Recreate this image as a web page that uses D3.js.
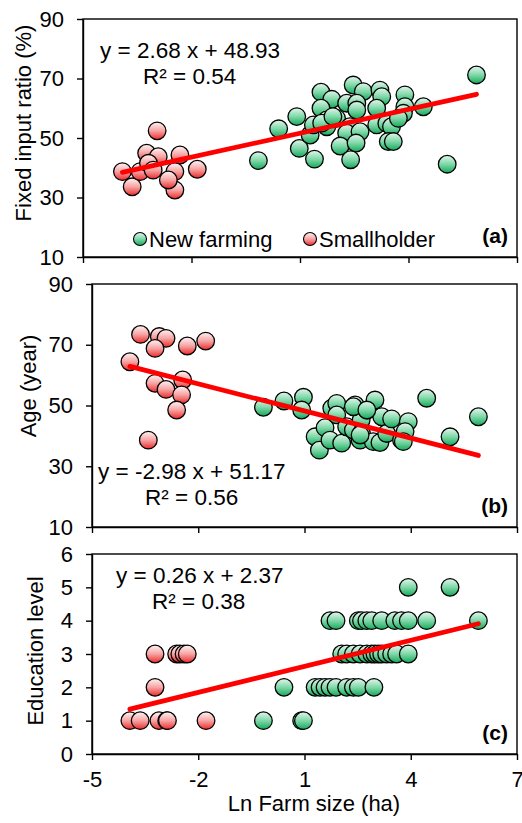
<!DOCTYPE html>
<html><head><meta charset="utf-8">
<script src="https://cdn.jsdelivr.net/npm/d3@7"></script>
<style>
html,body{margin:0;padding:0;background:#fff;}
svg{display:block;font-family:"Liberation Sans",Arial,sans-serif;}
</style></head>
<body><svg id="chart" width="522" height="823"></svg>
<script>
// ---------------- data ----------------
const xTicks = [-5, -2, 1, 4, 7];
const yTicksA = [10, 30, 50, 70, 90];
const yTicksB = [10, 30, 50, 70, 90];
const yTicksC = [0, 1, 2, 3, 4, 5, 6];
const seriesNames = ["New farming", "Smallholder"];
const panelLabels = ["(a)", "(b)", "(c)"];
const yTitles = ["Fixed input ratio (%)", "Age (year)", "Education level"];
const xTitle = "Ln Farm size (ha)";
const slopes = [2.68, -2.98, 0.26];
const intercepts = [48.93, 51.17, 2.37];
const r2s = ["0.54", "0.56", "0.38"];

const newFarmingA = [[5.88,71.2],[5.07,41.2],[-0.15,42.4],[0.41,53.1],[0.91,57.2],[0.98,46.5],[1.40,42.9],[1.58,65.4],[1.88,63.0],[1.58,60.0],[1.74,56.1],[1.28,51.0],[1.37,54.4],[1.74,53.8],[1.60,55.0],[2.01,56.6],[1.91,57.2],[2.47,67.8],[2.75,65.6],[3.21,66.1],[3.26,63.9],[2.29,61.7],[2.57,61.7],[3.12,60.0],[2.57,59.4],[2.38,53.8],[2.29,51.6],[2.66,52.1],[2.11,47.3],[2.55,48.3],[2.40,42.7],[3.12,54.4],[3.40,54.9],[3.53,53.8],[3.44,48.8],[3.58,48.8],[3.90,64.5],[3.90,60.5],[3.86,58.3],[3.72,56.6],[4.41,60.5]];
const smallholderA = [[-2.95,52.4],[-3.91,38.7],[-3.64,33.6],[-3.24,44.9],[-2.92,43.7],[-2.32,44.3],[-1.84,39.5],[-2.46,38.7],[-2.46,32.5],[-2.64,35.9],[-3.42,38.7],[-3.19,41.5],[-3.06,39.2]];

const newFarmingB = [[-0.16,49.4],[0.42,51.5],[0.97,52.7],[0.92,48.5],[1.30,39.7],[1.42,35.3],[1.58,42.7],[1.72,38.6],[1.77,49.1],[1.91,50.7],[1.91,46.9],[2.05,37.6],[2.19,43.0],[2.38,41.9],[2.43,50.2],[2.60,45.2],[2.57,38.6],[2.61,40.8],[2.77,48.5],[2.99,51.8],[2.94,38.1],[3.13,37.8],[3.18,46.3],[3.32,40.8],[3.46,45.6],[3.74,38.6],[3.93,44.7],[3.84,41.4],[4.45,52.4],[5.11,39.7],[5.91,46.3],[2.38,49.6],[2.76,48.5],[2.57,40.3],[3.79,38.1]];
const smallholderB = [[-3.93,64.4],[-3.63,73.4],[-3.10,72.7],[-2.91,72.1],[-3.22,68.8],[-2.31,69.6],[-1.79,71.2],[-3.22,57.3],[-2.91,55.3],[-2.44,58.4],[-2.47,53.5],[-2.61,48.5],[-3.41,38.6]];

const newFarmingC = [[-0.16,1],[0.92,1],[0.97,1],
 [0.42,2],[1.30,2],[1.44,2],[1.58,2],[1.72,2],[1.89,2],[2.19,2],[2.38,2],[2.52,2],[2.96,2],
 [2.05,3],[2.19,3],[2.38,3],[2.57,3],[2.76,3],[2.90,3],[2.99,3],[3.09,3],[3.18,3],[3.32,3],[3.46,3],[3.60,3],[3.93,3],
 [1.72,4],[1.89,4],[2.52,4],[2.61,4],[2.76,4],[2.90,4],[3.18,4],[3.55,4],[3.74,4],[3.93,4],[4.45,4],[5.91,4],
 [3.93,5],[5.11,5]];
const smallholderC = [[-3.93,1],[-3.64,1],[-3.11,1],[-2.89,1],[-2.87,1],[-1.78,1],[-3.22,2],[-3.22,3],[-2.61,3],[-2.52,3],[-2.40,3],[-2.31,3]];

// ---------------- drawing ----------------
const svg = d3.select("#chart");
const defs = svg.append("defs");
function grad(id, top, mid, bottom){
  const g = defs.append("linearGradient").attr("id", id).attr("x1",0).attr("y1",0).attr("x2",0).attr("y2",1);
  g.append("stop").attr("offset","0%").attr("stop-color",top);
  g.append("stop").attr("offset","50%").attr("stop-color",mid);
  g.append("stop").attr("offset","100%").attr("stop-color",bottom);
}
grad("gGreen", "#e3f7ec", "#7fd8a8", "#14a85a");
grad("gRed", "#fff4f4", "#f7a3a3", "#ec2a2a");

const FONT = 22;
const R = 8.8;

function panel(cfg){
  const x = d3.scaleLinear().domain([-5, 7]).range([cfg.left, cfg.right]);
  const y = d3.scaleLinear().domain(cfg.yDomain).range([cfg.bottom, cfg.top]);
  const g = svg.append("g");

  // frame
  g.append("rect").attr("x", cfg.left).attr("y", cfg.top)
    .attr("width", cfg.right - cfg.left).attr("height", cfg.bottom - cfg.top)
    .attr("fill", "none").attr("stroke", "#000").attr("stroke-width", 1.4);

  // axes
  const xa = g.append("g").attr("transform", `translate(0,${cfg.bottom})`)
    .call(d3.axisBottom(x).tickValues(xTicks).tickSize(6).tickSizeOuter(0).tickFormat(cfg.showX ? d3.format("d") : ""));
  const ya = g.append("g").attr("transform", `translate(${cfg.left},0)`)
    .call(d3.axisLeft(y).tickValues(cfg.yTicks).tickSize(6).tickSizeOuter(0).tickPadding(13).tickFormat(d3.format("d")));
  [xa, ya].forEach(a => {
    a.select(".domain").attr("stroke-width", 1.4);
    a.selectAll(".tick line").attr("stroke-width", 1.4);
    a.selectAll("text").attr("font-size", FONT).attr("font-family", "Liberation Sans, Arial, sans-serif").attr("fill", "#000");
  });
  xa.selectAll("text").attr("dy", null).attr("y", 33);
  xa.selectAll("text").text(d => cfg.showX ? (d < 0 ? "-" + Math.abs(d) : d) : "");

  // y title
  g.append("text").attr("transform", `translate(${cfg.titleX},${cfg.titleY}) rotate(-90)`)
    .attr("text-anchor", "middle").attr("font-size", FONT).text(cfg.yTitle);

  // points
  const all = cfg.green.concat(cfg.red);
  g.append("g").selectAll("circle").data(cfg.green).join("circle")
    .attr("cx", d => x(d[0])).attr("cy", d => y(d[1])).attr("r", R)
    .attr("fill", "url(#gGreen)").attr("stroke", "#000").attr("stroke-width", 1.3);
  g.append("g").selectAll("circle").data(cfg.red).join("circle")
    .attr("cx", d => x(d[0])).attr("cy", d => y(d[1])).attr("r", R)
    .attr("fill", "url(#gRed)").attr("stroke", "#000").attr("stroke-width", 1.3);

  // trend line
  const xmin = d3.min(all, d => d[0]), xmax = d3.max(all, d => d[0]);
  g.append("line")
    .attr("x1", x(xmin)).attr("y1", y(cfg.slope * xmin + cfg.intercept))
    .attr("x2", x(xmax)).attr("y2", y(cfg.slope * xmax + cfg.intercept))
    .attr("stroke", "#ff0000").attr("stroke-width", 4.8).attr("stroke-linecap", "round");

  // equation
  const eq = `y = ${cfg.slope < 0 ? "-" + Math.abs(cfg.slope).toFixed(2) : cfg.slope.toFixed(2)} x + ${cfg.intercept.toFixed(2)}`;
  g.append("text").attr("x", cfg.eqX).attr("y", cfg.eqY).attr("font-size", FONT + 0.5).text(eq);
  g.append("text").attr("x", cfg.r2X).attr("y", cfg.eqY + 25.5).attr("font-size", FONT + 0.5).text(`R\u00B2 = ${cfg.r2}`);

  // panel label
  g.append("text").attr("x", cfg.right - 9).attr("y", cfg.bottom - 14).attr("text-anchor", "end")
    .attr("font-size", 21).attr("font-weight", "bold").text(cfg.label);
  return {x, y, g};
}

const pa = panel({left:83, right:517, top:19, bottom:257, yDomain:[10,90], yTicks:yTicksA,
  green:newFarmingA, red:smallholderA, slope:slopes[0], intercept:intercepts[0], r2:r2s[0],
  eqX:100, eqY:58, r2X:143, label:panelLabels[0], yTitle:yTitles[0], titleX:31, titleY:123, showX:false});
const pb = panel({left:92, right:517, top:284, bottom:527, yDomain:[10,90], yTicks:yTicksB,
  green:newFarmingB, red:smallholderB, slope:slopes[1], intercept:intercepts[1], r2:r2s[1],
  eqX:98, eqY:479, r2X:145, label:panelLabels[1], yTitle:yTitles[1], titleX:36, titleY:386, showX:false});
const pc = panel({left:92, right:517, top:554, bottom:754, yDomain:[0,6], yTicks:yTicksC,
  green:newFarmingC, red:smallholderC, slope:slopes[2], intercept:intercepts[2], r2:r2s[2],
  eqX:116, eqY:583, r2X:152, label:panelLabels[2], yTitle:yTitles[2], titleX:43, titleY:651, showX:true});

// x title
svg.append("text").attr("x", 314).attr("y", 811).attr("text-anchor", "middle").attr("font-size", FONT).text(xTitle);

// legend in panel a
const legend = svg.append("g");
const legItems = [{name:seriesNames[0], fill:"url(#gGreen)", cx:140, tx:149}, {name:seriesNames[1], fill:"url(#gRed)", cx:310, tx:319}];
legItems.forEach(d => {
  legend.append("circle").attr("cx", d.cx).attr("cy", 239).attr("r", 6.5)
    .attr("fill", d.fill).attr("stroke", "#000").attr("stroke-width", 1.1);
  legend.append("text").attr("x", d.tx).attr("y", 247).attr("font-size", FONT).text(d.name);
});
</script></body></html>
